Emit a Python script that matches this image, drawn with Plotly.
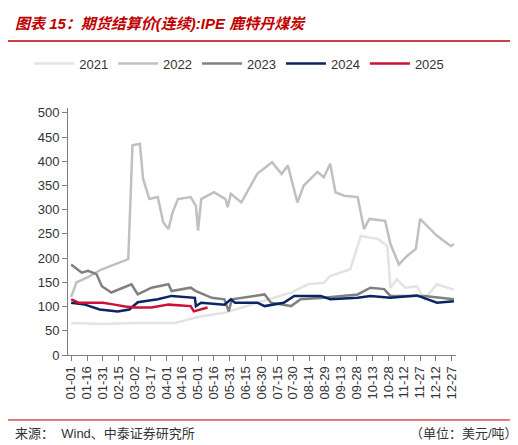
import plotly.graph_objects as go

# day-of-year positions and values (USD/t)
d2021 = [0, 30, 60, 98, 123, 145, 176, 208, 224, 239, 245, 264, 274, 280, 290, 299, 302, 308, 316, 327, 334, 346, 362]
v2021 = [66, 64, 66, 66, 80, 87, 108, 129, 146, 149, 163, 177, 246, 243, 240, 225, 139, 156, 139, 142, 115, 146, 135]

d2022 = [0, 5, 15, 29, 54, 58, 65, 68, 74, 82, 87, 92, 96, 101, 113, 118, 120, 123, 135, 146, 148, 151, 161, 176,
         190, 199, 205, 214, 220, 233, 239, 245, 250, 258, 271, 277, 282, 297, 302, 310, 318, 326, 330, 346, 359, 362]
v2022 = [120, 150, 160, 177, 198, 433, 436, 364, 322, 326, 274, 260, 295, 322, 326, 308, 257, 322, 336, 322, 305, 333, 315, 374,
         398, 374, 391, 315, 350, 378, 367, 395, 336, 329, 326, 260, 281, 277, 229, 187, 205, 219, 281, 246, 225, 229]

d2023 = [0, 10, 16, 24, 29, 38, 57, 63, 76, 92, 95, 113, 118, 133, 145, 149, 152, 183, 189, 208, 217, 239, 271, 283, 296, 302, 334, 362]
v2023 = [187, 170, 174, 167, 142, 129, 146, 125, 139, 146, 132, 139, 132, 118, 115, 90, 115, 125, 108, 101, 115, 118, 125, 139, 136, 122, 122, 115]

d2024 = [0, 13, 27, 44, 55, 63, 82, 95, 117, 118, 123, 145, 151, 155, 176, 183, 201, 211, 236, 245, 271, 283, 302, 327, 346, 362]
v2024 = [108, 104, 94, 90, 94, 109, 115, 122, 118, 101, 108, 104, 115, 108, 108, 101, 108, 122, 122, 115, 118, 122, 118, 123, 108, 111]

d2025 = [0, 7, 19, 30, 41, 51, 60, 76, 92, 113, 116, 129]
v2025 = [115, 108, 108, 108, 104, 100, 98, 98, 104, 101, 90, 98]

tick_days = list(range(0, 361, 15))
tick_labels = ["01-01", "01-16", "01-31", "02-15", "03-02", "03-17", "04-01", "04-16", "05-01", "05-16", "05-31",
               "06-15", "06-30", "07-15", "07-30", "08-14", "08-29", "09-13", "09-28", "10-13", "10-28", "11-12",
               "11-27", "12-12", "12-27"]

series = [
    ("2021", d2021, v2021, "#e3e3e3"),
    ("2022", d2022, v2022, "#c0c0c0"),
    ("2023", d2023, v2023, "#808080"),
    ("2024", d2024, v2024, "#0b2466"),
    ("2025", d2025, v2025, "#cc1136"),
]

fig = go.Figure()
for name, xs, ys, color in series:
    fig.add_trace(go.Scatter(x=xs, y=ys, name=name, mode="lines",
                             line=dict(color=color, width=2.5)))

red = "#c00000"
# plot area: pixels 100..347 vertically
fig.update_layout(
    width=518, height=445,
    margin=dict(l=60, r=70, t=100, b=98),
    plot_bgcolor="white", paper_bgcolor="white",
    font=dict(family="Arial, Noto Sans CJK SC", size=13, color="#333"),
    showlegend=True,
    legend=dict(orientation="h", x=-0.1, y=1.18, xanchor="left", yanchor="middle",
                font=dict(size=13), itemwidth=40),
    xaxis=dict(range=[-3, 364], tickmode="array", tickvals=tick_days, ticktext=tick_labels,
               tickangle=-90, showgrid=False, showline=True, linecolor="#7f7f7f",
               ticks="outside", tickcolor="#7f7f7f", ticklen=5, zeroline=False),
    yaxis=dict(range=[0, 510], tickvals=list(range(0, 501, 50)), showgrid=False, showline=True,
               linecolor="#7f7f7f", ticks="outside", tickcolor="#7f7f7f", ticklen=5, zeroline=False),
    shapes=[
        dict(type="line", xref="paper", yref="paper", x0=-0.155, x1=1.18, y0=1.271, y1=1.271,
             line=dict(color=red, width=1.5)),
        dict(type="line", xref="paper", yref="paper", x0=-0.155, x1=1.18, y0=-0.263, y1=-0.263,
             line=dict(color=red, width=1)),
    ],
    annotations=[
        dict(text="<b><i>图表 15：期货结算价(连续):IPE 鹿特丹煤炭</i></b>", xref="paper", yref="paper",
             x=-0.142, y=1.344, xanchor="left", yanchor="middle", showarrow=False,
             font=dict(size=15, color=red)),
        dict(text="来源：  Wind、中泰证券研究所", xref="paper", yref="paper",
             x=-0.142, y=-0.316, xanchor="left", yanchor="middle", showarrow=False,
             font=dict(size=13, color="#333")),
        dict(text="（单位：美元/吨）", xref="paper", yref="paper",
             x=1.165, y=-0.316, xanchor="right", yanchor="middle", showarrow=False,
             font=dict(size=13, color="#333")),
    ],
)

fig.write_html("out.html")
